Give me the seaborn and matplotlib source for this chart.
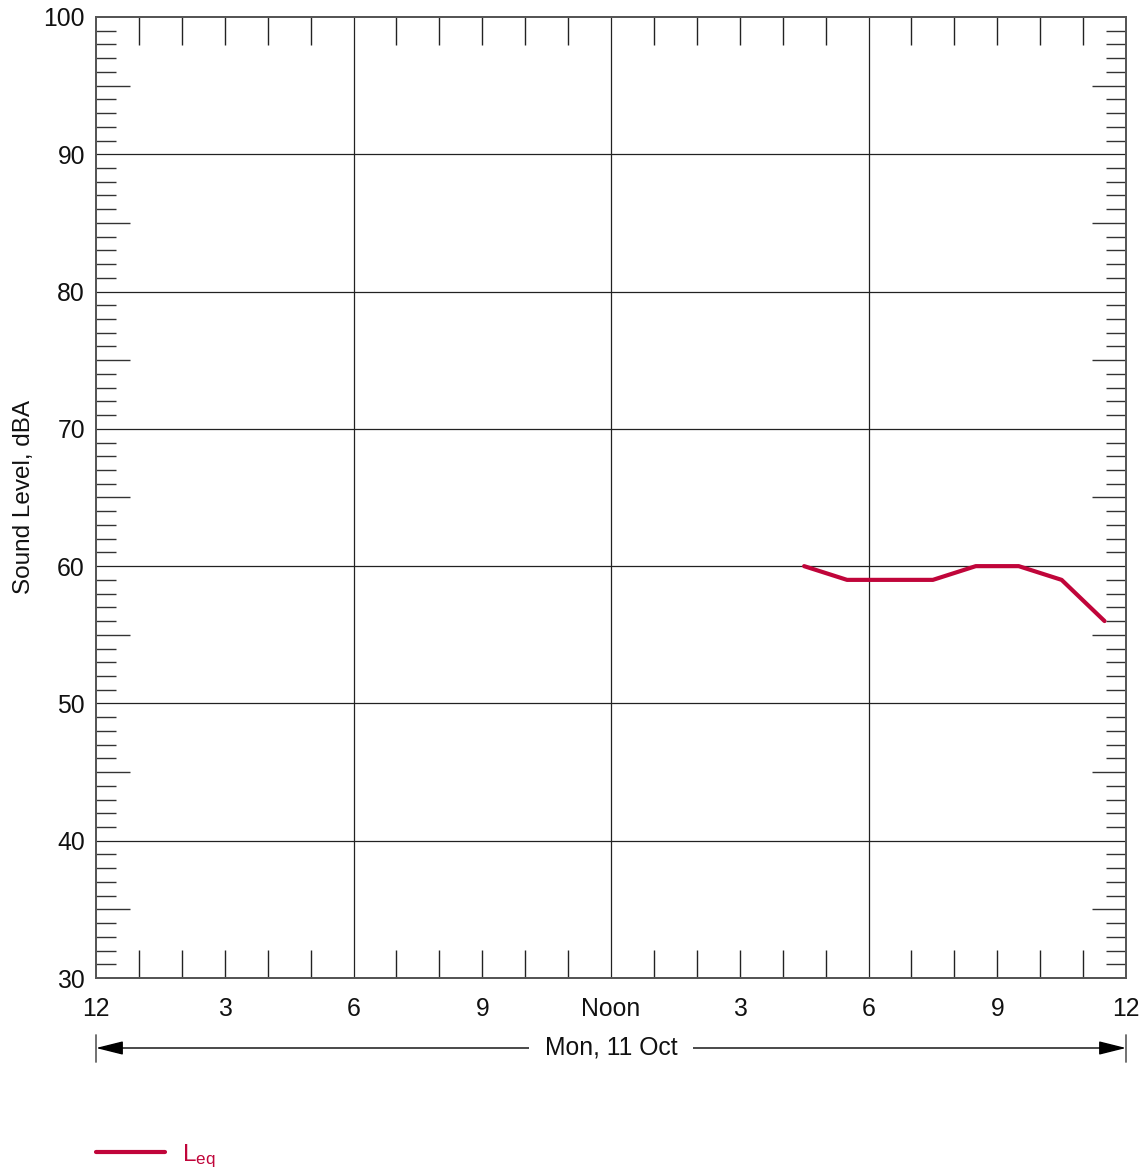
import numpy as np
import pandas as pd
import matplotlib
matplotlib.use("Agg")
import matplotlib.pyplot as plt
import matplotlib.transforms as mtransforms
import seaborn as sns

# ---- data ----
hours = [16.5, 17.5, 18.5, 19.5, 20.5, 21.5, 22.5, 23.5]
leq = [60, 59, 59, 59, 60, 60, 59, 56]
x_tick_pos = [0, 3, 6, 9, 12, 15, 18, 21, 24]
x_tick_labels = ["12", "3", "6", "9", "Noon", "3", "6", "9", "12"]
y_tick_pos = [30, 40, 50, 60, 70, 80, 90, 100]
date_label = "Mon, 11 Oct"
series_label = r"$\mathregular{L_{eq}}$"
ylabel = "Sound Level, dBA"

sns.set_theme(style="white")
plt.rcParams["font.family"] = ["Liberation Sans", "DejaVu Sans"]
plt.rcParams["mathtext.fontset"] = "custom"
plt.rcParams["mathtext.rm"] = "Liberation Sans"

FS = 17.8
W, H = 1147, 1168
fig = plt.figure(figsize=(W / 100, H / 100), dpi=100)
ax = fig.add_axes([96 / W, 1 - 978 / H, 1030 / W, 961 / H])

line_color = "#C0053A"
df = pd.DataFrame({"hour": hours, "leq": leq})
sns.lineplot(data=df, x="hour", y="leq", ax=ax, color=line_color, lw=3.0,
             label=series_label, legend=False)

ax.set_xlim(0, 24)
ax.set_ylim(30, 100)
ax.set_xlabel("")
ax.set_ylabel(ylabel, fontsize=17.5, labelpad=6, color="#111111")

# twin axis carrying the longer 5-dB ticks
ax2 = ax.twinx()
ax2.set_ylim(30, 100)
ax2.set_yticks(list(range(35, 100, 10)))
ax2.tick_params(axis="y", which="major", direction="in", length=24.5, width=1.0,
                color="#333333", left=True, right=True, labelleft=False,
                labelright=False)
ax2.grid(False)

# grid
for x in [6, 12, 18]:
    ax.axvline(x, color="#222222", lw=0.9, zorder=0)
for y in range(40, 100, 10):
    ax.axhline(y, color="#222222", lw=0.9, zorder=0)

# x ticks
ax.xaxis.remove_overlapping_locs = False
ax.set_xticks(x_tick_pos)
ax.set_xticklabels(x_tick_labels, fontsize=FS, color="#111111")
ax.set_xticks([h for h in range(1, 24) if h % 6 != 0], minor=True)
ax.tick_params(axis="x", which="major", length=0, pad=14)
ax.tick_params(axis="x", which="minor", direction="in", length=20, width=1.0,
               color="#222222", top=True, bottom=True)

# y ticks
ax.set_yticks(y_tick_pos)
ax.set_yticklabels([str(v) for v in y_tick_pos], fontsize=FS, color="#111111")
ax.set_yticks([v for v in range(31, 100) if v % 5 != 0], minor=True)
ax.tick_params(axis="y", which="major", length=0, pad=8)
ax.tick_params(axis="y", which="minor", direction="in", length=14.5, width=1.0,
               color="#333333", left=True, right=True)

for a in (ax, ax2):
    for s in a.spines.values():
        s.set_color("#555555")
        s.set_linewidth(1.3)

# date arrow below
trans = mtransforms.blended_transform_factory(ax.transData, fig.transFigure)
ya = 1 - 1048 / H
for xe in (0, 24):
    ax.plot([xe, xe], [1 - 1035 / H, 1 - 1062 / H], transform=trans,
            color="#666666", lw=1.3, clip_on=False)
for xe in (0, 24):
    ax.annotate("", xy=(xe, ya), xytext=(12, ya), xycoords=trans, textcoords=trans,
                arrowprops=dict(arrowstyle="-|>,head_length=1.4,head_width=0.35",
                                color="black", lw=1.0, shrinkA=0, shrinkB=0))
ax.text(12, ya, date_label, transform=trans, ha="center", va="center",
        fontsize=FS, color="#111111",
        bbox=dict(facecolor="white", edgecolor="none", pad=11))

# legend
handles, labels = ax.get_legend_handles_labels()
fig.legend(handles, labels, loc="center left",
           bbox_to_anchor=(96 / W, 1 - 1156 / H), frameon=False,
           fontsize=17.5, handlelength=2.85, handletextpad=0.7,
           borderpad=0, borderaxespad=0, labelcolor=line_color)

fig.savefig("out.png", dpi=100)
